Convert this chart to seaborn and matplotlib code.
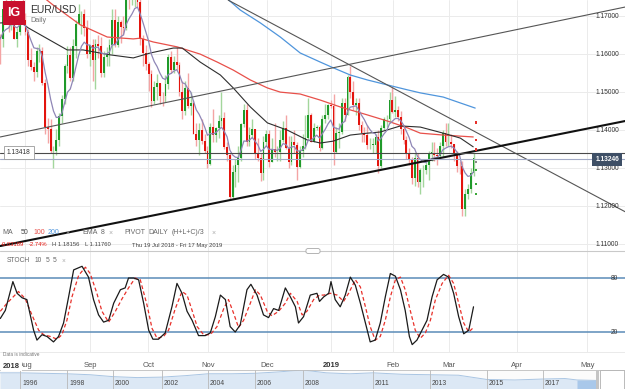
import numpy as np
import pandas as pd
import matplotlib
matplotlib.use("Agg")
import matplotlib.pyplot as plt
import matplotlib.transforms as mtransforms
from matplotlib.patches import Rectangle, FancyBboxPatch
from matplotlib.lines import Line2D
import seaborn as sns

# ---------------- EUR/USD daily candles, 19 Jul 2018 .. 13 Mar 2019 (index = trading day) -------------
first_open = 1.1645
closes = [
    1.1641, 1.1719, 1.1692, 1.1685, 1.1728, 1.1642, 1.1658,
    1.1705, 1.1691, 1.1658, 1.1585, 1.1567,
    1.1553, 1.1610, 1.1610, 1.1525, 1.1410,
    1.1405, 1.1345, 1.1345, 1.1375, 1.1438,
    1.1482, 1.1570, 1.1598, 1.1538, 1.1623,
    1.1680, 1.1706, 1.1706, 1.1670, 1.1600,
    1.1624, 1.1585, 1.1627, 1.1622, 1.1551,
    1.1594, 1.1601, 1.1625, 1.1692, 1.1624,
    1.1685, 1.1673, 1.1671, 1.1778, 1.1746,
    1.1747, 1.1772, 1.1738, 1.1640, 1.1604,
    1.1576, 1.1548, 1.1478, 1.1515, 1.1524,
    1.1491, 1.1490, 1.1522, 1.1593, 1.1560,
    1.1579, 1.1573, 1.1500, 1.1452, 1.1513,
    1.1465, 1.1472, 1.1391, 1.1375, 1.1402,
    1.1372, 1.1346, 1.1312, 1.1408, 1.1387,
    1.1407, 1.1426, 1.1434, 1.1357, 1.1335,
    1.1225, 1.1291, 1.1309, 1.1327, 1.1418,
    1.1455, 1.1369, 1.1387, 1.1404, 1.1338,
    1.1327, 1.1287, 1.1369, 1.1392, 1.1316,
    1.1352, 1.1343, 1.1344, 1.1376, 1.1406,
    1.1354, 1.1317, 1.1370, 1.1362, 1.1305,
    1.1347, 1.1360, 1.1379, 1.1441, 1.1371,
    1.1407, 1.1410, 1.1354, 1.1431, 1.1441,
    1.1467, 1.1465, 1.1343, 1.1394, 1.1397,
    1.1473, 1.1440, 1.1542, 1.1502, 1.1468,
    1.1472, 1.1415, 1.1393, 1.1388, 1.1362,
    1.1363, 1.1363, 1.1383, 1.1306, 1.1406,
    1.1429, 1.1431, 1.1480, 1.1448, 1.1455,
    1.1435, 1.1405, 1.1375, 1.1342, 1.1324,
    1.1276, 1.1327, 1.1264, 1.1295, 1.1296,
    1.1308, 1.1342, 1.1342, 1.1336, 1.1333,
    1.1359, 1.1394, 1.1370, 1.1370, 1.1364,
    1.1339, 1.1307, 1.1306, 1.1194, 1.1234,
    1.1247, 1.1288, 1.1327,
]
highs = [
    1.1655, 1.1740, 1.1750, 1.1720, 1.1745, 1.1745, 1.1670,
    1.1720, 1.1745, 1.1710, 1.1667, 1.1617,
    1.1580, 1.1620, 1.1627, 1.1620, 1.1535,
    1.1433, 1.1430, 1.1360, 1.1404, 1.1445,
    1.1493, 1.1575, 1.1623, 1.1620, 1.1640,
    1.1690, 1.1733, 1.1715, 1.1719, 1.1690,
    1.1625, 1.1640, 1.1640, 1.1650, 1.1645,
    1.1610, 1.1620, 1.1640, 1.1720, 1.1720,
    1.1700, 1.1690, 1.1700, 1.1790, 1.1790,
    1.1815, 1.1790, 1.1795, 1.1750, 1.1650,
    1.1625, 1.1580, 1.1560, 1.1530, 1.1548,
    1.1525, 1.1500, 1.1545, 1.1600, 1.1610,
    1.1595, 1.1621, 1.1580, 1.1530, 1.1530,
    1.1550, 1.1500, 1.1480, 1.1420, 1.1420,
    1.1430, 1.1390, 1.1360, 1.1420, 1.1456,
    1.1410, 1.1440, 1.1500, 1.1448, 1.1370,
    1.1340, 1.1310, 1.1325, 1.1360, 1.1420,
    1.1470, 1.1470, 1.1410, 1.1430, 1.1405,
    1.1380, 1.1340, 1.1385, 1.1400, 1.1400,
    1.1380, 1.1420, 1.1360, 1.1400, 1.1425,
    1.1440, 1.1385, 1.1385, 1.1400, 1.1370,
    1.1360, 1.1390, 1.1440, 1.1485, 1.1445,
    1.1420, 1.1415, 1.1415, 1.1440, 1.1470,
    1.1470, 1.1480, 1.1495, 1.1410, 1.1420,
    1.1485, 1.1485, 1.1545, 1.1570, 1.1530,
    1.1485, 1.1485, 1.1425, 1.1410, 1.1415,
    1.1380, 1.1380, 1.1390, 1.1400, 1.1415,
    1.1435, 1.1440, 1.1500, 1.1515, 1.1490,
    1.1465, 1.1450, 1.1415, 1.1385, 1.1355,
    1.1330, 1.1340, 1.1340, 1.1300, 1.1310,
    1.1320, 1.1345, 1.1370, 1.1370, 1.1355,
    1.1370, 1.1400, 1.1420, 1.1420, 1.1390,
    1.1365, 1.1345, 1.1320, 1.1320, 1.1245,
    1.1260, 1.1300, 1.1340,
]
lows = [
    1.1575, 1.1620, 1.1680, 1.1660, 1.1665, 1.1640, 1.1620,
    1.1650, 1.1680, 1.1650, 1.1570, 1.1560,
    1.1530, 1.1540, 1.1580, 1.1520, 1.1390,
    1.1366, 1.1340, 1.1301, 1.1335, 1.1360,
    1.1420, 1.1470, 1.1550, 1.1530, 1.1530,
    1.1590, 1.1680, 1.1655, 1.1648, 1.1590,
    1.1570, 1.1530, 1.1510, 1.1590, 1.1540,
    1.1540, 1.1570, 1.1570, 1.1600, 1.1620,
    1.1620, 1.1630, 1.1650, 1.1665, 1.1720,
    1.1730, 1.1725, 1.1725, 1.1625, 1.1570,
    1.1560, 1.1505, 1.1463, 1.1470, 1.1480,
    1.1470, 1.1465, 1.1475, 1.1510, 1.1550,
    1.1550, 1.1560, 1.1490, 1.1430, 1.1440,
    1.1460, 1.1440, 1.1390, 1.1360, 1.1335,
    1.1365, 1.1340, 1.1302, 1.1310, 1.1370,
    1.1370, 1.1380, 1.1412, 1.1350, 1.1320,
    1.1216, 1.1220, 1.1250, 1.1264, 1.1320,
    1.1410, 1.1360, 1.1360, 1.1380, 1.1325,
    1.1320, 1.1267, 1.1270, 1.1360, 1.1305,
    1.1316, 1.1330, 1.1320, 1.1320, 1.1370,
    1.1350, 1.1300, 1.1310, 1.1340, 1.1270,
    1.1300, 1.1330, 1.1350, 1.1375, 1.1370,
    1.1370, 1.1400, 1.1345, 1.1350, 1.1420,
    1.1430, 1.1460, 1.1310, 1.1340, 1.1355,
    1.1390, 1.1425, 1.1440, 1.1485, 1.1455,
    1.1440, 1.1400, 1.1370, 1.1370, 1.1350,
    1.1350, 1.1340, 1.1340, 1.1289, 1.1300,
    1.1400, 1.1410, 1.1420, 1.1445, 1.1435,
    1.1425, 1.1390, 1.1365, 1.1325, 1.1310,
    1.1260, 1.1255, 1.1250, 1.1234, 1.1250,
    1.1285, 1.1270, 1.1320, 1.1320, 1.1310,
    1.1330, 1.1330, 1.1360, 1.1360, 1.1355,
    1.1320, 1.1290, 1.1285, 1.1176, 1.1176,
    1.1220, 1.1235, 1.1281,
]

# ---------------- moving averages (trading-day index, price) ----------------
ma50_day = [0, 7.1, 10, 23.9, 29.6, 39.3, 47.5, 53.6, 61.8, 65, 71.4, 78.6, 83.2, 89.3, 95.4,
            102.5, 109.6, 114.3, 118.9, 125, 131.1, 135.7, 142.9, 150, 158.2, 164.3, 168.9]
ma50_val = [1.1683, 1.1686, 1.1670, 1.1612, 1.1612, 1.1599, 1.1591, 1.1604, 1.1617, 1.1617,
            1.1580, 1.1546, 1.1512, 1.1462, 1.1420, 1.1401, 1.1375, 1.1367, 1.1372, 1.1388,
            1.1393, 1.1396, 1.1412, 1.1409, 1.1393, 1.1380, 1.1357]
ma100_day = [14.3, 18.9, 28.6, 38.2, 47.5, 50, 54.6, 63.2, 71.4, 77.5, 83.2, 89.3, 95.4, 100,
             107.1, 114.3, 121.4, 131.1, 138.2, 145.4, 150, 158.2, 168.9]
ma100_val = [1.1757, 1.1730, 1.1678, 1.1646, 1.1641, 1.1643, 1.1633, 1.1620, 1.1601, 1.1580,
             1.1559, 1.1533, 1.1512, 1.1501, 1.1496, 1.1480, 1.1462, 1.1441, 1.1425, 1.1407,
             1.1393, 1.1388, 1.1383]
ma200_day = [80.4, 85.7, 92.9, 100, 107.1, 114.3, 118.9, 125, 131.1, 138.2, 145.4, 150, 158.2, 169.6]
ma200_val = [1.1751, 1.1717, 1.1683, 1.1646, 1.1604, 1.1580, 1.1565, 1.1546, 1.1533, 1.1520,
             1.1507, 1.1499, 1.1488, 1.1459]

# ---------------- stochastic (10, 5, 5) ----------------
stoch_k_day = [0.0, 1.8, 4.5, 6.0, 7.8, 9.5, 11.9, 13.1, 14.9, 16.7,
               19.0, 20.8, 22.6, 24.4, 26.2, 29.2, 31.5, 33.3, 35.1, 36.9,
               38.7, 40.5, 42.9, 44.6, 45.8, 47.6, 49.4, 51.2, 53.0, 54.5,
               56.5, 58.9, 61.3, 63.1, 64.9, 66.7, 68.5, 70.8, 73.2, 75.0,
               76.8, 78.6, 80.4, 82.1, 83.9, 85.7, 88.1, 89.5, 91.7, 94.0,
               95.8, 97.6, 99.4, 101.8, 103.6, 105.4, 106.5, 108.3, 110.7, 113.1,
               114.0, 115.5, 117.3, 118.1, 119.6, 121.4, 123.2, 125.0, 126.8, 128.6,
               130.4, 132.1, 133.9, 135.7, 137.5, 139.3, 141.1, 142.9, 144.6, 146.1,
               147.1, 148.8, 150.6, 152.4, 154.2, 156.0, 158.3, 160.1, 161.9, 163.7,
               165.5, 167.3, 169.0]
stoch_k = [35, 44, 76, 63, 58, 56, 22, 11, 17, 15,
           9, 15, 30, 59, 89, 93, 81, 56, 39, 31,
           33, 52, 67, 69, 80, 80, 78, 52, 22, 12,
           12, 19, 48, 74, 63, 43, 33, 16, 16, 19,
           37, 61, 56, 26, 20, 28, 67, 73, 61, 39,
           36, 46, 44, 69, 59, 48, 30, 37, 61, 63,
           54, 59, 63, 76, 56, 48, 61, 81, 72, 52,
           30, 9, 11, 30, 59, 85, 82, 67, 44, 15,
           6, 11, 22, 33, 59, 78, 84, 81, 63, 37,
           18, 22, 48]
stoch_d_day = [0.0, 2.4, 6.5, 8.9, 11.3, 13.7, 15.5, 17.9, 20.3, 22.0,
               23.8, 25.6, 28.0, 30.4, 32.1, 34.5, 36.3, 38.7, 41.1, 43.5,
               45.8, 48.2, 50.0, 52.4, 54.2, 56.0, 58.3, 60.1, 62.5, 64.9,
               66.7, 68.5, 70.3, 72.6, 75.0, 77.4, 79.8, 81.5, 83.3, 85.1,
               86.9, 89.3, 91.1, 92.9, 95.3, 97.0, 99.4, 101.8, 103.6, 106.0,
               107.8, 109.5, 111.9, 114.0, 115.5, 117.9, 120.3, 122.6, 124.4, 126.8,
               128.6, 130.4, 132.1, 133.9, 135.7, 137.5, 139.3, 141.1, 142.9, 144.6,
               146.4, 148.2, 150.0, 151.8, 153.6, 155.4, 157.8, 160.1, 161.9, 163.7,
               165.5, 167.3, 169.0]
stoch_d = [43, 52, 65, 57, 39, 22, 17, 15, 12, 17,
           33, 59, 83, 92, 85, 63, 43, 31, 43, 57,
           69, 80, 78, 50, 24, 13, 15, 22, 46, 65,
           61, 44, 26, 17, 17, 26, 46, 56, 41, 25,
           33, 52, 67, 61, 43, 38, 43, 52, 63, 54,
           39, 43, 56, 61, 61, 63, 61, 54, 63, 78,
           70, 48, 26, 11, 15, 33, 59, 78, 81, 67,
           44, 22, 13, 19, 33, 56, 74, 83, 74, 52,
           30, 20, 25]

# ---------------- drawn annotations (day, price) ----------------
trend_up = [(0, 1.1383), (223.2, 1.1725)]
trend_support = [(0, 1.1096), (223.2, 1.1425)]
trend_down = [(81.4, 1.1743), (223.2, 1.1186)]
ref_level = 1.13418
last_price = 1.13246
pivot_day = 170
pivot_levels = [1.1421, 1.1376, 1.1350, 1.1318, 1.1297, 1.1258, 1.1234]
pivot_kind = ["R", "R", "R", "P", "S", "S", "S"]

price_ticks = [1.11, 1.12, 1.13, 1.14, 1.15, 1.16, 1.17]
month_pos = [9, 32.1, 52.9, 74.3, 95.4, 118.2, 140.4, 160.4, 184.6, 209.6]
month_labels = ["Aug", "Sep", "Oct", "Nov", "Dec", "2019", "Feb", "Mar", "Apr", "May"]

# navigator (long history overview)
nav_years = [1995.15, 1996, 1997, 1998, 1999, 2000, 2001, 2002, 2003, 2004, 2005, 2006, 2007,
             2008, 2009, 2010, 2011, 2012, 2013, 2014, 2015, 2016, 2017, 2018, 2018.55, 2019.4]
nav_level = [17, 17, 16.5, 16, 15, 13, 12, 12.5, 14, 16, 16, 16.5, 18,
             20, 17, 16, 17, 15.5, 15, 14.5, 10, 9.5, 10.5, 11, 9.5, 9]
nav_tick_years = [1996, 1998, 2000, 2002, 2004, 2006, 2008, 2011, 2013, 2015, 2017]
nav_anchor_years = [1995.15, 1996, 1998, 2000, 2002, 2004, 2006, 2008, 2011, 2013, 2015, 2017,
                    2018.55, 2019.4, 2020.6]
nav_anchor_pos = [0, 20, 67, 113, 162, 208, 255, 303, 373, 430, 487, 543, 577, 597, 625]

# ---------------- style ----------------
sns.set_theme(style="white")
plt.rcParams["font.family"] = ["Liberation Sans", "DejaVu Sans"]

W, H = 625, 389
fig = plt.figure(figsize=(W / 100, H / 100), dpi=100)
fig.patch.set_facecolor("white")


def rect(x0, y0, x1, y1):
    return [x0 / W, 1 - y1 / H, (x1 - x0) / W, (y1 - y0) / H]


def fx(x):
    return x / W


def fy(y):
    return 1 - y / H


XMIN, XMAX = -0.1, 223.1
GREEN, RED = "#1f9a2a", "#e3140d"
PGREEN, PRED = "#a3d69c", "#f4a4a4"

# ================= main price panel =================
ax = fig.add_axes(rect(0, 0, W, 251))
ax.set_facecolor("white")
for s in ax.spines.values():
    s.set_visible(False)

c = np.array(closes)
h = np.array(highs)
l = np.array(lows)
o = np.r_[first_open, c[:-1]]
idx = np.arange(len(c))
up = c >= o
body_lo = np.minimum(o, c)
body_h = np.maximum(np.abs(c - o), 0.00006)

ax.vlines(idx[up], l[up], h[up], color=PGREEN, lw=1.0, zorder=2)
ax.vlines(idx[~up], l[~up], h[~up], color=PRED, lw=1.0, zorder=2)
ax.bar(idx[up], body_h[up], bottom=body_lo[up], width=0.68, color=GREEN, lw=0, zorder=3)
ax.bar(idx[~up], body_h[~up], bottom=body_lo[~up], width=0.68, color=RED, lw=0, zorder=3)

ema8 = pd.Series(c).ewm(span=8, adjust=False).mean()
sns.lineplot(x=ma100_day, y=ma100_val, ax=ax, color="#e8504a", lw=0.9, zorder=4)
sns.lineplot(x=ma200_day, y=ma200_val, ax=ax, color="#4f95dc", lw=0.9, zorder=4)
sns.lineplot(x=ma50_day, y=ma50_val, ax=ax, color="#2e2e2e", lw=0.8, zorder=4)
sns.lineplot(x=idx, y=ema8.values, ax=ax, color="#8f86b6", lw=0.9, zorder=4)

for (x0, p0), (x1, p1) in [trend_up, trend_down]:
    ax.plot([x0, x1], [p0, p1], color="#555555", lw=0.8, zorder=5)
(x0, p0), (x1, p1) = trend_support
ax.plot([x0, x1], [p0, p1], color="#111111", lw=1.5, zorder=5)

ax.axhline(ref_level, color="#4a4a4a", lw=0.8, zorder=5)
ax.axhline(last_price, color="#a2aac6", lw=0.8, zorder=5)

pcol = {"R": "#e8302a", "P": "#8a8a8a", "S": "#3aa83a"}
ax.scatter([pivot_day] * len(pivot_levels), pivot_levels,
           c=[pcol[k] for k in pivot_kind], s=2.2, marker="s", lw=0, zorder=6)

ax.set_xlim(XMIN, XMAX)
ax.set_ylim(1.108289, 1.174342)
ax.set_xticks(month_pos)
ax.set_yticks(price_ticks)
ax.tick_params(length=0, labelbottom=False, labelleft=False)
ax.grid(True, color="#ebebeb", lw=0.7)
ax.set_axisbelow(True)
ax.set_xlabel("")
ax.set_ylabel("")

blend = mtransforms.blended_transform_factory(ax.transAxes, ax.transData)
for p in price_ticks:
    ax.text(619 / W, p, f"{p:.5f}", transform=blend, ha="right", va="center",
            fontsize=4.8, color="#333333", zorder=7)
ax.text(7 / W, ref_level, f"{ref_level:.5f}", transform=blend, ha="left", va="center",
        fontsize=4.8, color="#333333", zorder=7,
        bbox=dict(boxstyle="square,pad=0.45", fc="white", ec="#9a9a9a", lw=0.6))
ax.text(619 / W, last_price, f"{last_price:.5f}", transform=blend, ha="right", va="center",
        fontsize=4.8, color="white", fontweight="bold", zorder=7,
        bbox=dict(boxstyle="square,pad=0.45", fc="#3e4f66", ec="none"))

# logo + title
fig.add_artist(Rectangle((fx(3), fy(25)), 22 / W, 24 / H, transform=fig.transFigure,
                         fc="#c8102e", ec="none", zorder=5))
fig.text(fx(14), fy(13.5), "IG", color="white", fontsize=9, fontweight="bold",
         ha="center", va="center", zorder=6)
fig.text(fx(30), fy(10), "EUR/USD", color="#333333", fontsize=7.5, ha="left", va="center")
fig.text(fx(30), fy(20.5), "Daily", color="#777777", fontsize=5.2, ha="left", va="center")

# indicator legend row
legend_items = [("MA", 2, "#666666"), ("50", 21, "#444444"), ("100", 33, "#e8504a"),
                ("200", 48, "#4f95dc"), ("\u00d7", 66, "#aaaaaa"), ("EMA", 82, "#666666"),
                ("8", 101, "#666666"), ("\u00d7", 109, "#aaaaaa"), ("PIVOT", 124, "#666666"),
                ("DAILY", 148, "#666666"), ("(H+L+C)/3", 172, "#666666"), ("\u00d7", 212, "#aaaaaa")]
for txt, xp, col in legend_items:
    fig.text(fx(xp), fy(233), txt, color=col, fontsize=5, ha="left", va="center", zorder=6)

info_items = [("-0.03189", 1, "#e3140d"), ("-2.74%", 29, "#e3140d"), ("H 1.18156", 52, "#444444"),
              ("L 1.11760", 85, "#444444"), ("Thu 19 Jul 2018 - Fri 17 May 2019", 132, "#444444")]
for txt, xp, col in info_items:
    fig.text(fx(xp), fy(245), txt, color=col, fontsize=4.2, ha="left", va="center", zorder=6)

# ================= stochastic panel =================
ax2 = fig.add_axes(rect(0, 251, W, 352))
ax2.set_facecolor("white")
for s in ax2.spines.values():
    s.set_visible(False)
ax2.axhline(80, color="#5b8cb8", lw=1.1, zorder=2)
ax2.axhline(20, color="#5b8cb8", lw=1.1, zorder=2)
sns.lineplot(x=stoch_d_day, y=stoch_d, ax=ax2, color="#e8302a", lw=0.9,
             linestyle=(0, (3, 2)), zorder=3)
sns.lineplot(x=stoch_k_day, y=stoch_k, ax=ax2, color="#1a1a1a", lw=0.9, zorder=4)
ax2.set_xlim(XMIN, XMAX)
ax2.set_ylim(-2.22, 110)
ax2.set_yticks([])
ax2.set_xticks(month_pos)
ax2.set_xticklabels(month_labels)
ax2.tick_params(axis="x", length=0, pad=7, labelsize=5.5, labelcolor="#555555")
for lbl in ax2.get_xticklabels():
    if lbl.get_text() == "2019":
        lbl.set_fontweight("bold")
        lbl.set_color("#333333")
ax2.grid(True, axis="x", color="#ebebeb", lw=0.7)
ax2.set_axisbelow(True)
ax2.set_xlabel("")
ax2.set_ylabel("")
blend2 = mtransforms.blended_transform_factory(ax2.transAxes, ax2.transData)
for v in (80, 20):
    ax2.text(618 / W, v, str(v), transform=blend2, ha="right", va="center",
             fontsize=4.8, color="#333333")

stoch_items = [("STOCH", 7), ("10", 35), ("5", 46), ("5", 53)]
for txt, xp in stoch_items:
    fig.text(fx(xp), fy(261), txt, color="#666666", fontsize=4.8, ha="left", va="center")
fig.text(fx(62), fy(261), "\u00d7", color="#aaaaaa", fontsize=4.8, ha="left", va="center")
fig.text(fx(3), fy(354), "Data is indicative", color="#777777", fontsize=3.4,
         ha="left", va="center")
fig.text(fx(3), fy(366), "2018", color="#333333", fontsize=5.5, fontweight="bold",
         ha="left", va="center", zorder=6,
         bbox=dict(boxstyle="square,pad=0.2", fc="white", ec="none"))

# separators
fig.add_artist(Line2D([0, 1], [fy(251), fy(251)], transform=fig.transFigure,
                      color="#c9c9c9", lw=0.8))
fig.add_artist(FancyBboxPatch((fx(306), fy(253.5)), 14 / W, 5 / H, transform=fig.transFigure,
                              boxstyle="round,pad=0,rounding_size=0.004", fc="white",
                              ec="#a8a8a8", lw=0.6, zorder=6))
fig.add_artist(Line2D([0, 1], [fy(352), fy(352)], transform=fig.transFigure,
                      color="#e6e6e6", lw=0.6))

# ================= navigator =================
def nav_fwd(v):
    return np.interp(v, nav_anchor_years, nav_anchor_pos)


def nav_inv(v):
    return np.interp(v, nav_anchor_pos, nav_anchor_years)


ax3 = fig.add_axes(rect(0, 369.5, W, 389))
ax3.set_facecolor("#fbfbfb")
for s in ax3.spines.values():
    s.set_visible(False)
ax3.set_xscale("function", functions=(nav_fwd, nav_inv))
ny = np.array(nav_years)
nl = np.array(nav_level)
ax3.fill_between(ny, nl, color="#dce8f5", lw=0)
ax3.fill_between(ny, nl, where=ny >= 2018.55, color="#a9c8ea", lw=0)
sns.lineplot(x=ny, y=nl, ax=ax3, color="#a9c5e3", lw=0.7)
for yr in nav_tick_years:
    ax3.axvline(yr, color="#b8b8b8", lw=0.6)
    t = mtransforms.offset_copy(mtransforms.blended_transform_factory(ax3.transData, ax3.transAxes),
                                fig=fig, x=2, y=0, units="dots")
    ax3.text(yr, 0.3, str(yr), transform=t, ha="left", va="center", fontsize=4.9, color="#444444")
ax3.set_xlim(nav_anchor_years[0], nav_anchor_years[-1])
ax3.set_ylim(0, 20.5)
ax3.set_xticks([])
ax3.set_yticks([])
ax3.set_xlabel("")
ax3.set_ylabel("")
fig.add_artist(Line2D([0, 1], [fy(369.5), fy(369.5)], transform=fig.transFigure,
                      color="#bdbdbd", lw=0.6))
fig.add_artist(Rectangle((fx(596), fy(389)), 3 / W, 19.5 / H, transform=fig.transFigure,
                         fc="#c4c4c4", ec="none", zorder=6))
fig.add_artist(Rectangle((fx(600), fy(388.5)), 24 / W, 18.5 / H, transform=fig.transFigure,
                         fc="white", ec="#b0b0b0", lw=0.6, zorder=6))

fig.savefig("out.png", dpi=100, facecolor="white")
